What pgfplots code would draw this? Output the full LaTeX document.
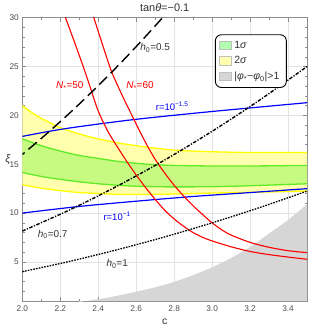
\documentclass[border=0pt]{standalone}
\usepackage{pgfplots}
\pgfplotsset{compat=1.18}
\usepgfplotslibrary{fillbetween}
\usepackage{fontspec}
\setmainfont{Liberation Sans}
\definecolor{yfill}{rgb}{1,1,0.68}
\definecolor{yline}{rgb}{1,1,0.0}
\definecolor{gfill}{rgb}{0.78,0.98,0.50}
\definecolor{gline}{rgb}{0.38,0.92,0.15}
\definecolor{glegend}{rgb}{0.70,1,0.70}
\definecolor{grayfill}{rgb}{0.84,0.84,0.84}
\definecolor{framec}{gray}{0.55}
\definecolor{tickc}{gray}{0.3}
\definecolor{labc}{gray}{0.2}
\begin{document}
\begin{tikzpicture}
\begin{axis}[
  scale only axis, width=284.7bp, height=283.3bp,
  xmin=2, xmax=3.5, ymin=1, ymax=30,
  xtick={2,2.2,2.4,2.6,2.8,3,3.2,3.4},
  minor xtick={2.1,2.3,2.5,2.7,2.9,3.1,3.3,3.5},
  ytick={5,10,15,20,25,30},
  minor ytick={1,2,3,4,6,7,8,9,11,12,13,14,16,17,18,19,21,22,23,24,26,27,28,29},
  xticklabel style={/pgf/number format/fixed, /pgf/number format/fixed zerofill, /pgf/number format/precision=1, yshift=-1bp},
  /pgf/number format/assume math mode=true,
  tick align=inside,
  major tick length=4bp, minor tick length=2.2bp,
  grid=major, major grid style={gray!22, line width=0.5bp},
  axis line style={framec, line width=0.6bp},
  every tick/.style={framec, line width=0.5bp},
  tick label style={font=\fontsize{8.3}{9}\selectfont, text=tickc},
  legend image code/.code={\draw[#1, sharp corners, line width=0.4bp] (0bp,-4bp) rectangle (11.5bp,4.5bp);},
  legend style={at={(axis cs:3.015,28.3)}, anchor=north west, draw=black, line width=0.9bp,
    rounded corners=6bp, fill=white, font=\fontsize{10.5}{12}\selectfont, text=labc,
    row sep=2.6bp, inner xsep=4bp, inner ysep=4.5bp,
    nodes={inner xsep=3bp}},
  legend cell align=left,
  clip=true,
]
% gray region |phi*-phi0|>1
\addplot[fill=grayfill, draw=none, forget plot, smooth] coordinates {
 (2.30,0.9) (2.45,1.35) (2.60,1.95) (2.70,2.4) (2.80,2.95) (2.90,3.65) (3.00,4.45)
 (3.10,5.4) (3.20,6.55) (3.30,7.9) (3.40,9.3) (3.50,10.9)} \closedcycle;

% 2 sigma band
\addplot[name path=yu, draw=yline, line width=1.3bp, smooth, forget plot] coordinates {
 (2.0,21.0) (2.05,20.3) (2.1,19.7) (2.2,18.75) (2.3,18.1) (2.4,17.6) (2.5,17.2)
 (2.6,16.9) (2.7,16.65) (2.8,16.45) (2.9,16.35) (3.0,16.28) (3.2,16.2) (3.5,16.2)};
\addplot[name path=yl, draw=yline, line width=1.3bp, smooth, forget plot] coordinates {
 (2.0,12.9) (2.1,12.55) (2.2,12.3) (2.3,12.1) (2.4,12.0) (2.5,11.92) (2.6,11.9)
 (2.8,11.95) (3.0,12.05) (3.2,12.12) (3.5,12.25)};
\addplot[yfill, forget plot] fill between[of=yu and yl];

% 1 sigma band
\addplot[name path=gu, draw=none, smooth, forget plot] coordinates {
 (2.0,17.6) (2.1,16.9) (2.2,16.35) (2.3,15.9) (2.4,15.6) (2.5,15.3) (2.6,15.1)
 (2.7,14.95) (2.8,14.88) (3.0,14.82) (3.2,14.82) (3.5,14.88)};
\addplot[name path=gl, draw=none, smooth, forget plot] coordinates {
 (2.0,14.15) (2.1,13.75) (2.2,13.45) (2.3,13.2) (2.4,13.0) (2.5,12.85) (2.6,12.75)
 (2.7,12.7) (2.8,12.68) (3.0,12.7) (3.2,12.8) (3.5,13.0)};
\addplot[gfill, forget plot] fill between[of=gu and gl];
\addplot[gline, line width=1.3bp, smooth, forget plot] coordinates {
 (2.0,17.6) (2.1,16.9) (2.2,16.35) (2.3,15.9) (2.4,15.6) (2.5,15.3) (2.6,15.1)
 (2.7,14.95) (2.8,14.88) (3.0,14.82) (3.2,14.82) (3.5,14.88)};
\addplot[gline, line width=1.3bp, smooth, forget plot] coordinates {
 (2.0,14.15) (2.1,13.75) (2.2,13.45) (2.3,13.2) (2.4,13.0) (2.5,12.85) (2.6,12.75)
 (2.7,12.7) (2.8,12.68) (3.0,12.7) (3.2,12.8) (3.5,13.0)};

% r contours (blue)
\addplot[blue, line width=1.2bp, smooth, forget plot] coordinates {
 (2.0,17.85) (2.15,18.4) (2.3,18.85) (2.6,19.6) (3.0,20.4) (3.5,21.3)};
\addplot[blue, line width=1.2bp, smooth, forget plot] coordinates {
 (2.0,10.0) (2.3,10.68) (2.62,11.25) (2.9,11.7) (3.2,12.1) (3.5,12.5)};

% N* contours (red)
\addplot[red, line width=1.1bp, smooth, forget plot] coordinates {
 (2.222,30.3) (2.275,27.5) (2.321,25.0) (2.36,22.75) (2.40,20.45) (2.45,18.4)
 (2.50,16.8) (2.55,15.3) (2.60,13.9) (2.65,12.6) (2.70,11.4) (2.75,10.3)
 (2.80,9.4) (2.85,8.65) (2.90,8.0) (2.95,7.52) (3.0,7.15) (3.1,6.55) (3.2,6.07)
 (3.3,5.75) (3.4,5.5) (3.5,5.27)};
\addplot[red, line width=1.1bp, smooth, forget plot] coordinates {
 (2.372,30.3) (2.42,27.4) (2.47,24.5) (2.53,21.9) (2.584,19.75) (2.65,17.2)
 (2.70,15.5) (2.75,14.1) (2.80,12.85) (2.85,11.75) (2.90,10.75) (2.95,9.85)
 (3.0,9.0) (3.05,8.3) (3.1,7.75) (3.2,7.0) (3.3,6.5) (3.4,6.15) (3.5,5.95)};

% h0 contours (black)
\addplot[black, line width=1.4bp, dash pattern=on 11bp off 5bp, dash phase=8bp, smooth, forget plot] coordinates {
 (2.0,16.0) (2.1,17.64) (2.2,19.36) (2.3,21.16) (2.4,23.04) (2.5,25.0) (2.6,27.04) (2.7,29.16) (2.76,30.47)};
\addplot[black, line width=1.4bp, dash pattern=on 3.5bp off 1.5bp on 1.2bp off 1.5bp, smooth, forget plot] coordinates {
 (2.0,8.16) (2.25,10.33) (2.5,12.76) (2.75,15.43) (3.0,18.37) (3.25,21.56) (3.5,25.0)};
\addplot[black, line width=1.3bp, dash pattern=on 1.6bp off 1.2bp, smooth, forget plot] coordinates {
 (2.0,4.0) (2.25,5.06) (2.5,6.25) (2.75,7.56) (3.0,9.0) (3.25,10.56) (3.5,12.25)};

% legend
\addlegendimage{fill=glegend, draw=gray!50}
\addlegendentry{1\textit{σ}}
\addlegendimage{fill=yfill, draw=gray!50}
\addlegendentry{2\textit{σ}}
\addlegendimage{fill=grayfill, draw=gray!50}
\addlegendentry{|\textit{φ}\textsubscript{*}−\textit{φ}\textsubscript{0}|>1}

% curve labels
\node[font=\fontsize{10}{11}\selectfont, text=labc] at (axis cs:2.70,26.9) {\textit{h}\textsubscript{0}=0.5};
\node[font=\fontsize{10}{11}\selectfont, text=labc] at (axis cs:2.16,7.84) {\textit{h}\textsubscript{0}=0.7};
\node[font=\fontsize{10}{11}\selectfont, text=labc] at (axis cs:2.50,4.8) {\textit{h}\textsubscript{0}=1};
\node[font=\fontsize{10}{11}\selectfont, text=red] at (axis cs:2.25,23.0) {\textit{N}\textsubscript{*}=50};
\node[font=\fontsize{10}{11}\selectfont, text=red] at (axis cs:2.62,23.0) {\textit{N}\textsubscript{*}=60};
\node[font=\fontsize{9.5}{11}\selectfont, text=blue] at (axis cs:2.79,20.9) {r=10\textsuperscript{−1.5}};
\node[font=\fontsize{9.5}{11}\selectfont, text=blue] at (axis cs:2.50,9.65) {r=10\textsuperscript{−1}};
\end{axis}
\node[font=\fontsize{11}{13}\selectfont, text=labc] at ([yshift=10.5bp]current axis.north) {tan\textit{θ}=−0.1};
\node[font=\fontsize{10.5}{12}\selectfont, text=labc] at ([yshift=-21bp]current axis.south) {c};
\node[font=\fontsize{11}{13}\selectfont, text=labc] at ([xshift=-14.3bp]current axis.west) {\textit{ξ}};
\pgfresetboundingbox
\path[use as bounding box] ([xshift=-22.3bp,yshift=-31bp]current axis.south west) rectangle ([xshift=5bp,yshift=17.7bp]current axis.north east);
\end{tikzpicture}
\end{document}
